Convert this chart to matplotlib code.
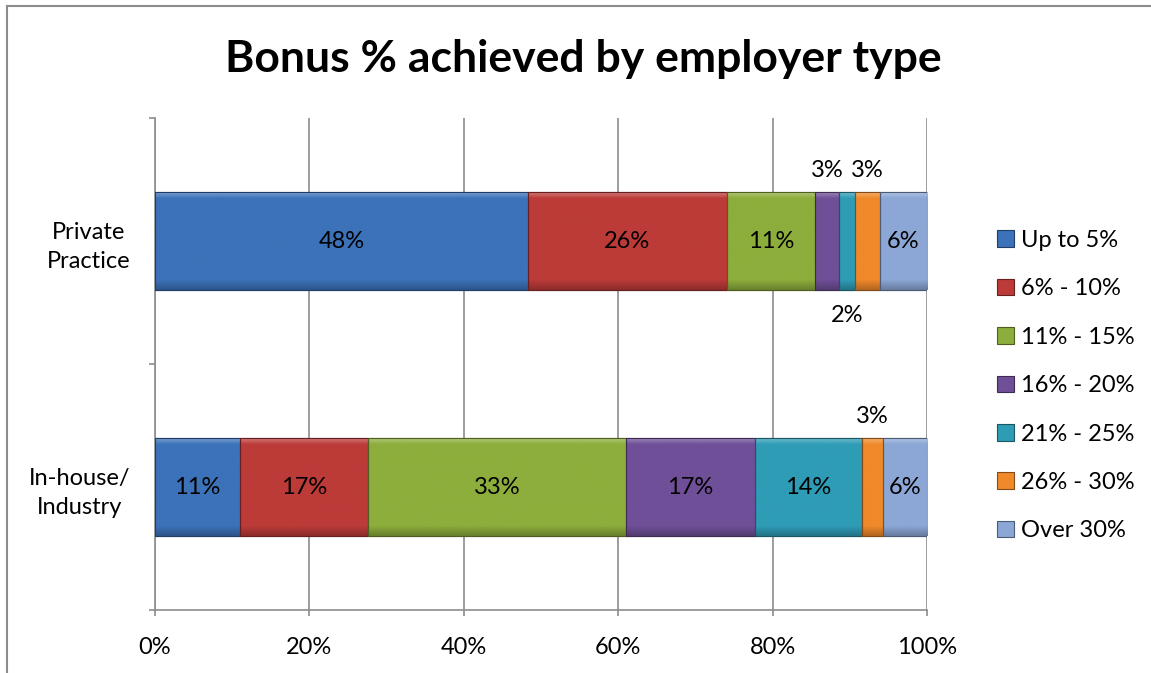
import matplotlib
matplotlib.use("Agg")
import matplotlib.pyplot as plt
import numpy as np
from matplotlib.colors import to_rgb

categories = ["In-house/\nIndustry", "Private\nPractice"]
series = ["Up to 5%", "6% - 10%", "11% - 15%", "16% - 20%", "21% - 25%", "26% - 30%", "Over 30%"]
inhouse = [11.0, 16.6, 33.4, 16.7, 13.9, 2.7, 5.7]
private = [48.3, 25.8, 11.4, 3.1, 2.1, 3.2, 6.1]
labels_inhouse = ["11%", "17%", "33%", "17%", "14%", "3%", "6%"]
labels_private = ["48%", "26%", "11%", "3%", "2%", "3%", "6%"]
colors = ["#3C72B9", "#BC3B38", "#8DAD3C", "#6F4F98", "#2F9CB6", "#F0892A", "#8CA7D6"]
xticks = [0, 20, 40, 60, 80, 100]
xticklabels = ["0%", "20%", "40%", "60%", "80%", "100%"]

# label placement: 0 = centre, 1 = above, -1 = below
place_inhouse = [0, 0, 0, 0, 0, 1, 0]
place_private = [0, 0, 0, 1, -1, 1, 0]

plt.rcParams['font.family'] = ['Lato', 'DejaVu Sans']
FS = 17

W, H = 1151, 673
fig = plt.figure(figsize=(W / 100, H / 100), dpi=100)
ax = fig.add_axes([155 / W, 1 - 610 / H, (927 - 155) / W, (610 - 118) / H])

# outer chart border (left & top visible)
fig.add_artist(plt.Line2D([7 / W, 7 / W], [0, 1 - 6 / H], transform=fig.transFigure, color="#8c8c8c", lw=1.5))
fig.add_artist(plt.Line2D([7 / W, 1], [1 - 6 / H, 1 - 6 / H], transform=fig.transFigure, color="#8c8c8c", lw=1.5))

data = np.array([inhouse, private])
ypos = np.arange(len(categories))
bar_h = 0.40
left = np.zeros(len(categories))


def shade(c, f):
    r = np.array(to_rgb(c))
    if f >= 0:
        return r + (1 - r) * f
    return r * (1 + f)


handles = []
for j, s in enumerate(series):
    bars = ax.barh(ypos, data[:, j], left=left, height=bar_h, color=colors[j],
                   edgecolor=shade(colors[j], -0.45), linewidth=0.8, zorder=3, label=s)
    handles.append(bars)
    # bevel-like gradient overlay
    top = shade(colors[j], 0.35)
    mid = shade(colors[j], 0.0)
    bot = shade(colors[j], -0.25)
    t = np.linspace(0, 1, 100)
    img = np.zeros((100, 1, 3))
    for k, tt in enumerate(t):  # tt=0 top
        if tt < 0.07:
            c = top + (mid - top) * (tt / 0.07)
        elif tt > 0.90:
            c = mid + (bot - mid) * ((tt - 0.90) / 0.10)
        else:
            c = mid
        img[k, 0] = c
    for b in bars:
        x0, y0 = b.get_x(), b.get_y()
        w, h = b.get_width(), b.get_height()
        im = ax.imshow(img, extent=[x0, x0 + w, y0, y0 + h], aspect='auto',
                       origin='upper', zorder=3.1, interpolation='bilinear')
        im.set_clip_path(b)
        # redraw outline on top
        ax.add_patch(plt.Rectangle((x0, y0), w, h, fill=False,
                                   edgecolor=shade(colors[j], -0.45), lw=0.8, zorder=3.2))
    left = left + data[:, j]

# data labels
for i, (vals, labs, places) in enumerate([(inhouse, labels_inhouse, place_inhouse),
                                           (private, labels_private, place_private)]):
    cum = np.cumsum([0] + vals[:-1])
    for j, (v, lab, p) in enumerate(zip(vals, labs, places)):
        xc = cum[j] + v / 2
        if p == 0:
            ax.text(xc, ypos[i], lab, ha='center', va='center', fontsize=FS, zorder=5, color='black')
        else:
            yb = ypos[i] + p * bar_h / 2
            off = 15 if p > 0 else -18
            ax.annotate(lab, (xc, yb), xytext=(0, off), textcoords='offset points',
                        ha='center', va='center', fontsize=FS, zorder=5)

ax.set_xlim(0, 100)
ax.set_ylim(-0.5, 1.5)
ax.set_xticks(xticks)
ax.set_xticklabels(xticklabels, fontsize=FS)
ax.set_yticks([-0.5, 0.5, 1.5])
ax.set_yticklabels([])
ax.set_yticks(ypos, minor=True)
ax.set_yticklabels(categories, minor=True, fontsize=FS)
ax.tick_params(axis='y', which='minor', length=0, pad=17.5)
ax.tick_params(axis='y', which='major', length=4, color='#8c8c8c', width=1.2)
ax.tick_params(axis='x', length=4, color='#8c8c8c', width=1.2, pad=15.5)
for lab in ax.get_yticklabels(minor=True):
    lab.set_multialignment('center')
    lab.set_linespacing(1.45)

ax.grid(axis='x', color='#8c8c8c', lw=1.2, zorder=0)
ax.set_axisbelow(True)
for sp in ['top', 'right']:
    ax.spines[sp].set_visible(False)
for sp in ['left', 'bottom']:
    ax.spines[sp].set_color('#8c8c8c')
    ax.spines[sp].set_linewidth(1.2)

fig.text(583 / W, 1 - 59 / H, "Bonus % achieved by employer type", ha='center', va='center',
         fontsize=32, fontweight='bold')

leg = ax.legend(handles=handles, loc='upper left', bbox_to_anchor=(997 / W, 1 - 230 / H),
                bbox_transform=fig.transFigure, frameon=False, fontsize=FS,
                handlelength=0.7, handleheight=0.7, handletextpad=0.3, labelspacing=1.16,
                borderaxespad=0, borderpad=0)

fig.savefig("out.png", dpi=100, facecolor='white')
